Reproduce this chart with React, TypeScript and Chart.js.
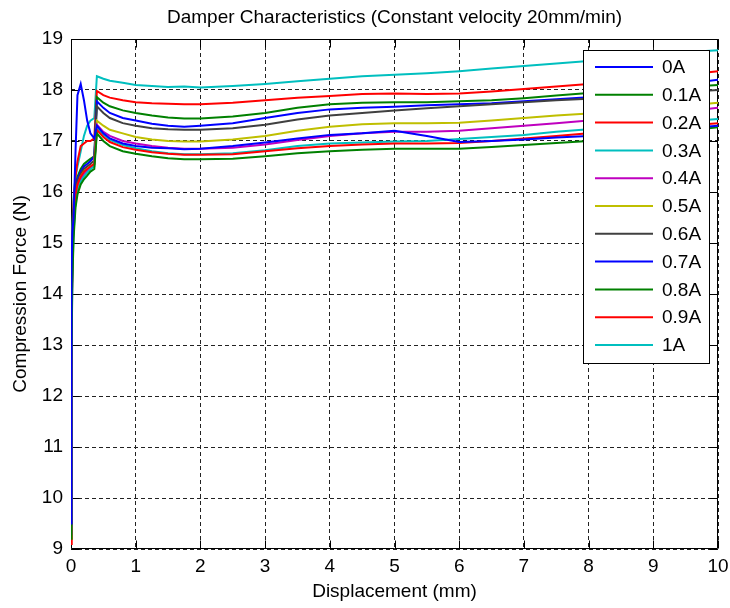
import React, { useEffect, useRef } from "react";
import { Chart, registerables } from "chart.js";

Chart.register(...registerables);

const TITLE = "Damper Characteristics (Constant velocity 20mm/min)";
const X_TITLE = "Displacement (mm)";
const Y_TITLE = "Compression Force (N)";

const X_TICKS = [0, 1, 2, 3, 4, 5, 6, 7, 8, 9, 10];
const Y_TICKS = [9, 10, 11, 12, 13, 14, 15, 16, 17, 18, 19];

const DISP = [0, 0.005, 0.01, 0.02, 0.04, 0.07, 0.1, 0.15, 0.2, 0.25, 0.3, 0.36, 0.4, 0.5, 0.6, 0.8, 1.0, 1.25, 1.5, 1.75, 2.0, 2.5, 3.0, 3.5, 4.0, 4.5, 5.0, 5.5, 6.0, 6.5, 7.0, 7.5, 8.0, 8.5, 9.0, 9.5, 10];

const LABELS = ["0A", "0.1A", "0.2A", "0.3A", "0.4A", "0.5A", "0.6A", "0.7A", "0.8A", "0.9A", "1A"];
const COLORS = ["#0000FF", "#008000", "#FF0000", "#00BFBF", "#BF00BF", "#BFBF00", "#404040", "#0000FF", "#008000", "#FF0000", "#00BFBF"];

const F_0A = [9.5, 13.0, 14.5, 15.2, 15.5, 16.8, 17.9, 18.12, 17.8, 17.4, 17.15, 17.05, 17.3, 17.15, 17.05, 16.95, 16.9, 16.87, 16.86, 16.84, 16.85, 16.9, 16.97, 17.05, 17.12, 17.15, 17.2, 17.1, 16.98, 17.0, 17.03, 17.07, 17.1, 17.15, 17.2, 17.25, 17.3];
const F_01A = [9.2, 11.0, 12.6, 14.2, 15.1, 15.7, 15.95, 16.15, 16.25, 16.32, 16.4, 16.45, 17.15, 17.0, 16.9, 16.8, 16.75, 16.7, 16.66, 16.64, 16.64, 16.65, 16.7, 16.76, 16.8, 16.83, 16.85, 16.85, 16.85, 16.88, 16.92, 16.96, 17.0, 17.06, 17.12, 17.2, 17.27];
const F_02A = [9.1, 11.5, 13.1, 14.6, 15.5, 15.95, 16.15, 16.3, 16.4, 16.45, 16.5, 16.55, 17.22, 17.08, 16.98, 16.88, 16.83, 16.78, 16.75, 16.73, 16.73, 16.74, 16.8, 16.86, 16.9, 16.93, 16.95, 16.95, 16.96, 17.0, 17.05, 17.1, 17.15, 17.2, 17.25, 17.3, 17.35];
const F_03A = [9.3, 11.2, 12.8, 14.3, 15.2, 15.8, 16.0, 16.2, 16.3, 16.38, 16.45, 16.5, 17.26, 17.12, 17.02, 16.92, 16.86, 16.8, 16.76, 16.74, 16.74, 16.76, 16.82, 16.9, 16.95, 16.97, 16.99, 17.0, 17.04, 17.08, 17.12, 17.18, 17.23, 17.28, 17.33, 17.38, 17.43];
const F_04A = [9.3, 11.3, 12.9, 14.4, 15.3, 15.85, 16.05, 16.25, 16.35, 16.42, 16.48, 16.55, 17.32, 17.18, 17.1, 17.0, 16.95, 16.9, 16.87, 16.85, 16.85, 16.87, 16.93, 17.02, 17.1, 17.15, 17.18, 17.18, 17.2, 17.25, 17.3, 17.35, 17.4, 17.46, 17.52, 17.58, 17.65];
const F_05A = [9.2, 11.4, 13.0, 14.5, 15.4, 15.9, 16.1, 16.3, 16.4, 16.45, 16.5, 16.55, 17.4, 17.3, 17.22, 17.15, 17.08, 17.03, 17.0, 16.99, 16.99, 17.03, 17.1, 17.2, 17.28, 17.33, 17.35, 17.35, 17.36, 17.4, 17.45, 17.5, 17.54, 17.58, 17.63, 17.69, 17.75];
const F_06A = [9.3, 11.6, 13.3, 14.7, 15.6, 16.0, 16.2, 16.35, 16.45, 16.5, 16.55, 16.62, 17.68, 17.55, 17.45, 17.35, 17.3, 17.25, 17.23, 17.22, 17.22, 17.25, 17.32, 17.42, 17.5, 17.55, 17.6, 17.64, 17.68, 17.72, 17.76, 17.8, 17.83, 17.88, 17.92, 17.96, 18.0];
const F_07A = [9.4, 11.5, 13.2, 14.6, 15.5, 16.0, 16.25, 16.4, 16.5, 16.55, 16.6, 16.7, 17.78, 17.65, 17.55, 17.45, 17.4, 17.34, 17.3, 17.28, 17.3, 17.35, 17.45, 17.55, 17.62, 17.65, 17.67, 17.7, 17.72, 17.74, 17.78, 17.82, 17.86, 17.95, 18.05, 18.12, 18.2];
const F_08A = [9.2, 11.8, 13.5, 14.8, 15.6, 16.1, 16.3, 16.45, 16.55, 16.6, 16.65, 16.7, 17.86, 17.75, 17.68, 17.6, 17.55, 17.5, 17.46, 17.44, 17.44, 17.48, 17.55, 17.65, 17.72, 17.75, 17.76, 17.76, 17.78, 17.8, 17.84, 17.89, 17.94, 17.98, 18.02, 18.06, 18.1];
const F_09A = [9.1, 12.0, 13.8, 15.0, 15.8, 16.3, 16.6, 16.9, 16.95, 17.0, 17.0, 17.05, 17.98, 17.9, 17.85, 17.8, 17.76, 17.74, 17.73, 17.72, 17.72, 17.75, 17.8, 17.85, 17.88, 17.92, 17.93, 17.92, 17.93, 17.97, 18.02, 18.07, 18.12, 18.17, 18.22, 18.3, 18.37];
const F_1A = [9.3, 12.5, 14.2, 15.3, 15.9, 16.3, 16.5, 16.8, 17.1, 17.3, 17.4, 17.45, 18.27, 18.22, 18.18, 18.14, 18.1, 18.08, 18.06, 18.07, 18.05, 18.08, 18.12, 18.17, 18.22, 18.27, 18.3, 18.33, 18.37, 18.42, 18.47, 18.52, 18.57, 18.62, 18.68, 18.74, 18.78];

const SERIES = [F_0A, F_01A, F_02A, F_03A, F_04A, F_05A, F_06A, F_07A, F_08A, F_09A, F_1A];

const FONT = "'Liberation Sans', Arial, sans-serif";

const framePlugin = {
  id: "frame",
  beforeDatasetsDraw(chart: any) {
    const { ctx, chartArea } = chart;
    const { left, right, top, bottom } = chartArea;
    const xs = chart.scales.x;
    const ys = chart.scales.y;
    ctx.save();
    ctx.strokeStyle = "#000";
    ctx.lineWidth = 1;
    ctx.setLineDash([]);
    const L = Math.round(left) + 0.5, R = Math.round(right) - 0.5;
    const T = Math.round(top) + 0.5, B = Math.round(bottom) - 0.5;
    ctx.beginPath();
    ctx.rect(L, T, R - L, B - T);
    const tl = 8;
    X_TICKS.forEach((v) => {
      const px = Math.round(xs.getPixelForValue(v)) + 0.5;
      ctx.moveTo(px, B); ctx.lineTo(px, B - tl);
      ctx.moveTo(px, T); ctx.lineTo(px, T + tl);
    });
    Y_TICKS.forEach((v) => {
      const py = Math.round(ys.getPixelForValue(v)) + 0.5;
      ctx.moveTo(L, py); ctx.lineTo(L + tl, py);
      ctx.moveTo(R, py); ctx.lineTo(R - tl, py);
    });
    ctx.stroke();
    ctx.restore();
  },
  afterDraw(chart: any) {
    const { ctx, chartArea } = chart;
    ctx.save();
    ctx.fillStyle = "#000";
    ctx.font = `19px ${FONT}`;
    ctx.textAlign = "center";
    ctx.textBaseline = "middle";
    ctx.fillText(TITLE, (chartArea.left + chartArea.right) / 2, 18);
    const bx = 583.5, by = 50.5, bw = 126, bh = 313;
    ctx.fillStyle = "#fff";
    ctx.fillRect(bx, by, bw, bh);
    ctx.strokeStyle = "#000";
    ctx.lineWidth = 1;
    ctx.strokeRect(bx, by, bw, bh);
    LABELS.forEach((lab, i) => {
      const y = 67 + i * 27.8;
      ctx.strokeStyle = COLORS[i];
      ctx.lineWidth = 2;
      ctx.beginPath();
      ctx.moveTo(595, y);
      ctx.lineTo(653, y);
      ctx.stroke();
      ctx.fillStyle = "#000";
      ctx.textAlign = "left";
      ctx.textBaseline = "middle";
      ctx.font = `19px ${FONT}`;
      ctx.fillText(lab, 662, y + 1);
    });
    ctx.restore();
  },
};

export default function App() {
  const ref = useRef<HTMLCanvasElement | null>(null);
  useEffect(() => {
    document.body.style.margin = "0";
    if (!ref.current) return;
    const datasets = SERIES.map((s, i) => ({
      label: LABELS[i],
      data: DISP.map((x, j) => ({ x, y: s[j] })),
      borderColor: COLORS[i],
      backgroundColor: COLORS[i],
      borderWidth: 2,
      pointRadius: 0,
      fill: false,
      tension: 0,
    }));
    const chart = new Chart(ref.current, {
      type: "line",
      data: { datasets },
      plugins: [framePlugin],
      options: {
        animation: false,
        responsive: false,
        devicePixelRatio: 1,
        layout: { padding: { top: 39, right: 12, left: 0, bottom: 0 } },
        plugins: { legend: { display: false }, title: { display: false }, tooltip: { enabled: false } },
        scales: {
          x: {
            type: "linear",
            min: 0,
            max: 10,
            afterFit: (s: any) => { s.height = 59; s.paddingLeft = 0; s.paddingRight = 0; },
            afterBuildTicks: (s: any) => { s.ticks = X_TICKS.map((v) => ({ value: v })); },
            ticks: { color: "#000", font: { family: FONT, size: 19 }, padding: 6, maxRotation: 0, autoSkip: false },
            grid: { color: "#222", lineWidth: 1, drawTicks: false, tickLength: 0 },
            border: { display: false, dash: [4, 3] },
            title: { display: true, text: X_TITLE, color: "#000", font: { family: FONT, size: 19 }, padding: { top: 0, bottom: 5 } },
          },
          y: {
            type: "linear",
            min: 9,
            max: 19,
            afterFit: (s: any) => { s.width = 71; s.paddingTop = 0; s.paddingBottom = 0; },
            afterBuildTicks: (s: any) => { s.ticks = Y_TICKS.map((v) => ({ value: v })); },
            ticks: { color: "#000", font: { family: FONT, size: 19 }, padding: 8, autoSkip: false },
            grid: { color: "#222", lineWidth: 1, drawTicks: false, tickLength: 0 },
            border: { display: false, dash: [4, 3] },
            title: { display: true, text: Y_TITLE, color: "#000", font: { family: FONT, size: 19 }, padding: { top: 9, bottom: 0 } },
          },
        },
      },
    });
    return () => chart.destroy();
  }, []);
  return (
    <div style={{ width: 730, height: 608 }}>
      <canvas ref={ref} width={730} height={608} style={{ display: "block" }} />
    </div>
  );
}
